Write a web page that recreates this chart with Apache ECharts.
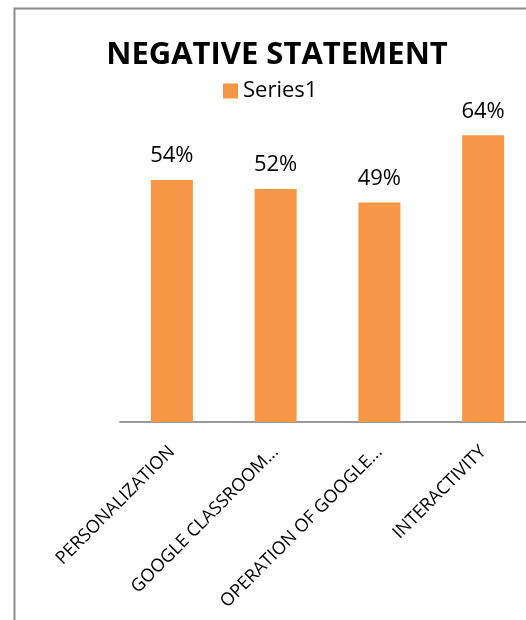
<!DOCTYPE html>
<html><head><meta charset="utf-8">
<script src="https://cdn.jsdelivr.net/npm/echarts@6/dist/echarts.min.js"></script>
<style>html,body{margin:0;padding:0;background:#fff}#c{width:526px;height:620px}</style>
</head><body><div id="c"></div>
<script>
const categories = ["PERSONALIZATION", "GOOGLE CLASSROOM...", "OPERATION OF GOOGLE...", "INTERACTIVITY"];
const values = [0.54, 0.52, 0.49, 0.64];
const seriesName = "Series1";
const titleText = "NEGATIVE STATEMENT";
const FONT = "'Open Sans', sans-serif";
const chart = echarts.init(document.getElementById('c'));
chart.setOption({
  animation: false,
  title: { text: titleText, left: 272, top: 35, textAlign: 'center',
    textStyle: { fontFamily: FONT, fontWeight: 'bold', fontSize: 31, color: '#000' } },
  legend: { data: [seriesName], left: 218, top: 75, itemWidth: 15, itemHeight: 15, itemGap: 8,
    icon: 'rect', textStyle: { fontFamily: FONT, fontSize: 22, color: '#000' } },
  graphic: [{ type: 'rect', shape: { x: 14.5, y: 8.5, width: 700, height: 800 },
    style: { fill: 'none', stroke: '#8c8c8c', lineWidth: 2 }, silent: true }],
  grid: { left: 120, top: 108.4, width: 415, height: 313.6, containLabel: false, outerBoundsMode: 'none' },
  xAxis: { type: 'category', data: categories,
    axisLine: { lineStyle: { color: '#999', width: 2 } }, axisTick: { show: false },
    axisLabel: { rotate: 45, interval: 0, margin: 27, fontFamily: FONT, fontSize: 18, color: '#000' } },
  yAxis: { type: 'value', min: 0, max: 0.7, show: false, splitLine: { show: false } },
  series: [{ name: seriesName, type: 'bar', data: values, barWidth: 42,
    itemStyle: { color: '#F79646' },
    label: { show: true, position: 'top', distance: 13, fontFamily: FONT, fontSize: 22, color: '#000',
      formatter: p => Math.round(p.value * 100) + '%' } }]
});
</script></body></html>
